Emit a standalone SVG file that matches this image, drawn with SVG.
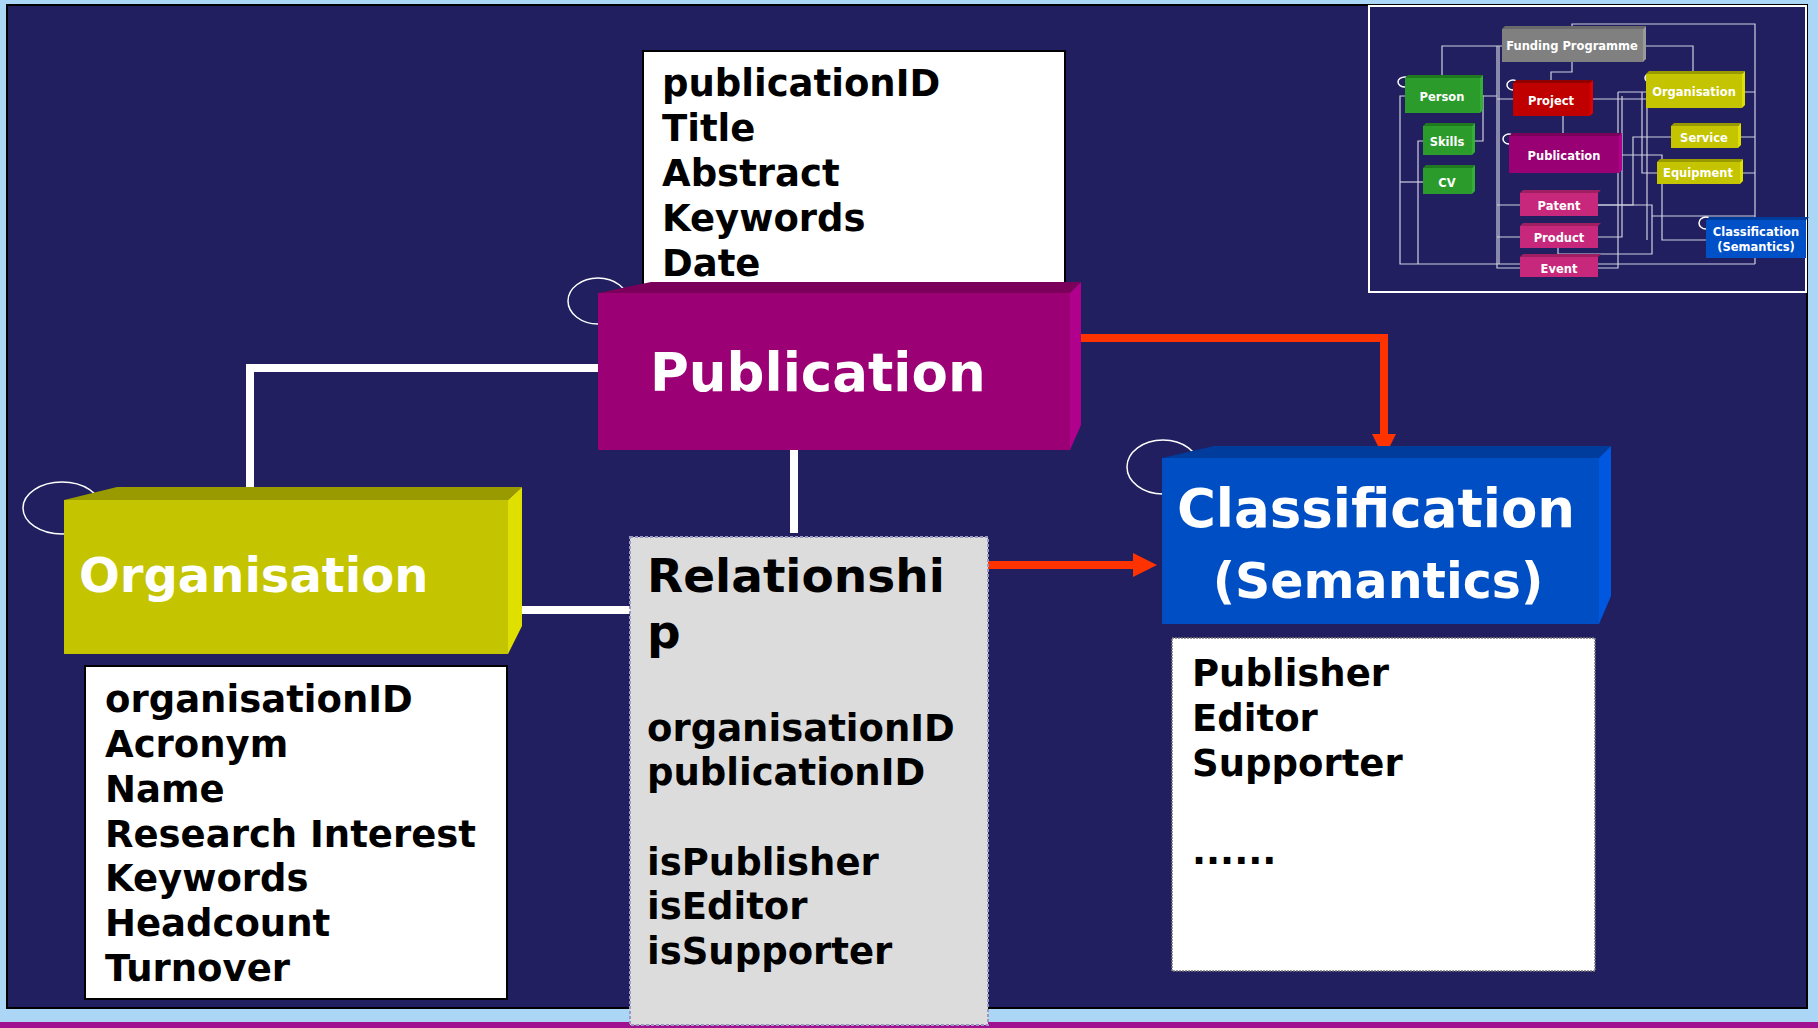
<svg xmlns="http://www.w3.org/2000/svg" width="1818" height="1028" viewBox="0 0 1818 1028">
<style>
text{font-family:"DejaVu Sans","Liberation Sans",sans-serif;font-weight:bold}
.attr{font-size:37px;fill:#000}
.wl{stroke:#fff;stroke-width:8;fill:none}
.rl{stroke:#ff3300;stroke-width:8;fill:none}
.el{fill:none;stroke:#fff;stroke-width:1.5}
.tl{stroke:#d0d0e0;stroke-width:1.2;fill:none}
.tt{font-size:11.5px;fill:#fff;text-anchor:middle}
.box{fill:#fff;stroke:#000;stroke-width:2}
</style>
<defs>
<marker id="ah" viewBox="0 0 24 24" refX="0" refY="12" markerWidth="24" markerHeight="24" markerUnits="userSpaceOnUse" orient="auto">
<path d="M0,0 L24,12 L0,24 z" fill="#ff3300"/>
</marker>
</defs>
<rect x="0" y="0" width="1818" height="1028" fill="#acd6f5"/>
<rect x="0" y="1022" width="1818" height="6" fill="#a0128f"/>
<rect x="7" y="5" width="1800" height="1003" fill="#211f5f" stroke="#000" stroke-width="2"/>

<!-- ellipses -->
<ellipse class="el" cx="598" cy="301" rx="30" ry="23"/>
<ellipse class="el" cx="62" cy="508" rx="39" ry="26"/>
<ellipse class="el" cx="1163" cy="467" rx="36" ry="27"/>

<g id="connectors">
<path class="wl" d="M598,368 H250 V487"/>
<path class="wl" d="M522,610 H630"/>
<path class="wl" d="M794,450 V533"/>
<path class="rl" d="M1081,338 H1384 V434" marker-end="url(#ah)"/>
<path class="rl" d="M988,565 H1133" marker-end="url(#ah)"/>
</g>

<g id="publication-attrs">
<rect class="box" x="643" y="51" width="422" height="240"/>
<text class="attr" x="662" y="96">publicationID</text>
<text class="attr" x="662" y="141">Title</text>
<text class="attr" x="662" y="186">Abstract</text>
<text class="attr" x="662" y="231">Keywords</text>
<text class="attr" x="662" y="276">Date</text>
</g>

<g id="publication">
<polygon points="598,293 651,282 1081,282 1070,293" fill="#7a005a"/>
<polygon points="1070,293 1081,282 1081,425 1070,450" fill="#b0008c"/>
<rect x="598" y="293" width="472" height="157" fill="#9b0074"/>
<text x="650" y="391" font-size="53" fill="#fff">Publication</text>
</g>

<g id="organisation">
<polygon points="64,500 117,487 522,487 508,500" fill="#999900"/>
<polygon points="508,500 522,487 522,626 508,654" fill="#e0e000"/>
<rect x="64" y="500" width="444" height="154" fill="#c4c400"/>
<text x="79" y="592" font-size="48" fill="#fff">Organisation</text>
</g>

<g id="organisation-attrs">
<rect class="box" x="85" y="666" width="422" height="333"/>
<text class="attr" x="105" y="712">organisationID</text>
<text class="attr" x="105" y="757">Acronym</text>
<text class="attr" x="105" y="802">Name</text>
<text class="attr" x="105" y="847">Research Interest</text>
<text class="attr" x="105" y="891">Keywords</text>
<text class="attr" x="105" y="936">Headcount</text>
<text class="attr" x="105" y="981">Turnover</text>
</g>

<g id="relationship">
<rect x="630" y="537" width="358" height="488" fill="#dcdcdc" stroke="#9a9ac0" stroke-width="2" stroke-dasharray="3 2"/>
<text x="647" y="592" font-size="47" fill="#000">Relationshi</text>
<text x="647" y="648" font-size="47" fill="#000">p</text>
<text class="attr" x="647" y="741">organisationID</text>
<text class="attr" x="647" y="785">publicationID</text>
<text class="attr" x="647" y="875">isPublisher</text>
<text class="attr" x="647" y="919">isEditor</text>
<text class="attr" x="647" y="964">isSupporter</text>
</g>

<g id="classification">
<polygon points="1162,458 1214,446 1611,446 1599,458" fill="#003c9c"/>
<polygon points="1599,458 1611,446 1611,596 1599,624" fill="#0058e0"/>
<rect x="1162" y="458" width="437" height="166" fill="#004ec4"/>
<text x="1376" y="527" font-size="53" fill="#fff" text-anchor="middle">Classification</text>
<text x="1378" y="598" font-size="49" fill="#fff" text-anchor="middle">(Semantics)</text>
</g>

<g id="classification-attrs">
<rect x="1172" y="638" width="423" height="333" fill="#fff" stroke="#777" stroke-width="1.5" stroke-dasharray="2 1"/>
<text class="attr" x="1192" y="686">Publisher</text>
<text class="attr" x="1192" y="731">Editor</text>
<text class="attr" x="1192" y="776">Supporter</text>
<text class="attr" x="1192" y="864">......</text>
</g>

<g id="overview">
<rect x="1369" y="6" width="437" height="286" fill="#211f5f" stroke="#fff" stroke-width="2"/>
<g id="overview-connectors">
<path class="tl" d="M1442,78 V46 H1502"/>
<path class="tl" d="M1572,29 V24 H1755 V264"/>
<path class="tl" d="M1742,92 H1755 M1738,137 H1755 M1740,173 H1755"/>
<path class="tl" d="M1643,46 H1693 V74"/>
<path class="tl" d="M1572,62 V72 H1551 V83"/>
<path class="tl" d="M1480,96 H1483 V141 H1472"/>
<path class="tl" d="M1480,96 H1497 M1497,99 H1513"/>
<path class="tl" d="M1497,46 V268 H1520 M1499,46 V264 M1497,205 H1520 M1497,237 H1520"/>
<path class="tl" d="M1405,96 H1400 V264 H1755"/>
<path class="tl" d="M1423,141 H1418 V264"/>
<path class="tl" d="M1423,182 H1400"/>
<path class="tl" d="M1563,116 V136"/>
<path class="tl" d="M1590,99 H1646"/>
<path class="tl" d="M1618,92 H1646 M1618,92 V268 H1598"/>
<path class="tl" d="M1622,96 V237 H1598"/>
<path class="tl" d="M1619,155 H1662 V240 H1706"/>
<path class="tl" d="M1671,137 H1633 V205 H1598"/>
<path class="tl" d="M1657,173 H1642 V92"/>
<path class="tl" d="M1598,205 H1652 V254 H1558 V248"/>
<path class="tl" d="M1647,92 V240"/>
<path class="tl" d="M1652,216 H1755"/>
</g>
<ellipse class="el" cx="1405" cy="82" rx="7" ry="5" stroke-width="1"/>
<ellipse class="el" cx="1513" cy="85" rx="6" ry="5" stroke-width="1"/>
<ellipse class="el" cx="1652" cy="78" rx="7" ry="5" stroke-width="1"/>
<ellipse class="el" cx="1509" cy="139" rx="6" ry="5" stroke-width="1"/>
<ellipse class="el" cx="1706" cy="223" rx="7" ry="6" stroke-width="1"/>
<g id="ov-funding"><polygon points="1502,29 1505,26 1646,26 1643,29" fill="#6a6a6a"/><polygon points="1643,29 1646,26 1646,59 1643,62" fill="#9a9a9a"/><rect x="1502" y="29" width="141" height="33" fill="#808080"/><text class="tt" x="1572" y="50">Funding Programme</text></g>
<g id="ov-person"><polygon points="1405,78 1408,75 1483,75 1480,78" fill="#1f7a1f"/><polygon points="1480,78 1483,75 1483,110 1480,113" fill="#33b033"/><rect x="1405" y="78" width="75" height="35" fill="#2b9b2b"/><text class="tt" x="1442" y="101">Person</text></g>
<g id="ov-skills"><polygon points="1423,126 1426,123 1475,123 1472,126" fill="#1f7a1f"/><polygon points="1472,126 1475,123 1475,152 1472,155" fill="#33b033"/><rect x="1423" y="126" width="49" height="29" fill="#2b9b2b"/><text class="tt" x="1447" y="146">Skills</text></g>
<g id="ov-cv"><polygon points="1423,168 1426,165 1475,165 1472,168" fill="#1f7a1f"/><polygon points="1472,168 1475,165 1475,191 1472,194" fill="#33b033"/><rect x="1423" y="168" width="49" height="26" fill="#2b9b2b"/><text class="tt" x="1447" y="187">CV</text></g>
<g id="ov-project"><polygon points="1513,83 1516,80 1593,80 1590,83" fill="#900000"/><polygon points="1590,83 1593,80 1593,113 1590,116" fill="#e00000"/><rect x="1513" y="83" width="77" height="33" fill="#c00000"/><text class="tt" x="1551" y="105">Project</text></g>
<g id="ov-publication"><polygon points="1509,136 1512,133 1622,133 1619,136" fill="#7a005a"/><polygon points="1619,136 1622,133 1622,170 1619,173" fill="#b0008c"/><rect x="1509" y="136" width="110" height="37" fill="#990073"/><text class="tt" x="1564" y="160">Publication</text></g>
<g id="ov-patent"><polygon points="1520,193 1523,190 1601,190 1598,193" fill="#a01f62"/><rect x="1520" y="193" width="78" height="23" fill="#c8287c"/><text class="tt" x="1559" y="210">Patent</text></g>
<g id="ov-product"><polygon points="1520,226 1523,223 1601,223 1598,226" fill="#a01f62"/><rect x="1520" y="226" width="78" height="22" fill="#c8287c"/><text class="tt" x="1559" y="242">Product</text></g>
<g id="ov-event"><polygon points="1520,257 1523,254 1601,254 1598,257" fill="#a01f62"/><rect x="1520" y="257" width="78" height="20" fill="#c8287c"/><text class="tt" x="1559" y="273">Event</text></g>
<g id="ov-organisation"><polygon points="1646,74 1649,71 1745,71 1742,74" fill="#999900"/><polygon points="1742,74 1745,71 1745,105 1742,108" fill="#e0e000"/><rect x="1646" y="74" width="96" height="34" fill="#c4c400"/><text class="tt" x="1694" y="96" font-size="10.5">Organisation</text></g>
<g id="ov-service"><polygon points="1671,126 1674,123 1741,123 1738,126" fill="#999900"/><polygon points="1738,126 1741,123 1741,145 1738,148" fill="#e0e000"/><rect x="1671" y="126" width="67" height="22" fill="#c4c400"/><text class="tt" x="1704" y="142">Service</text></g>
<g id="ov-equipment"><polygon points="1657,162 1660,159 1743,159 1740,162" fill="#999900"/><polygon points="1740,162 1743,159 1743,181 1740,184" fill="#e0e000"/><rect x="1657" y="162" width="83" height="22" fill="#c4c400"/><text class="tt" x="1698" y="177">Equipment</text></g>
<g id="ov-classification"><polygon points="1706,220 1709,217 1809,217 1806,220" fill="#003c9c"/><rect x="1706" y="220" width="100" height="38" fill="#0050c8"/><text class="tt" x="1756" y="236" font-size="10.5">Classification</text><text class="tt" x="1756" y="251" font-size="10.5">(Semantics)</text></g>
</g>
</svg>
